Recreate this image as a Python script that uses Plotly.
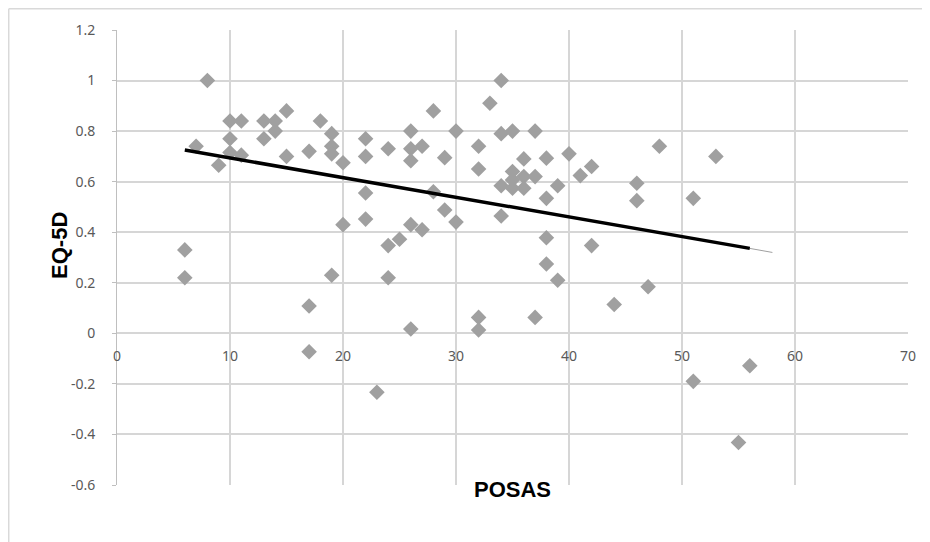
import plotly.graph_objects as go

# ---- data ----
posas = [6, 6, 7, 8, 9, 10, 10, 10, 11, 11, 13, 14, 15, 13, 14, 15, 17, 18, 19, 19,
         19, 20, 22, 22, 24, 22, 22, 20, 19, 17, 17, 24, 24, 23, 25, 26, 26, 26, 26, 26,
         27, 27, 28, 28, 29, 29, 30, 30, 32, 32, 32, 32, 33, 34, 34, 34, 34, 35, 35, 35,
         35, 36, 36, 36, 37, 37, 37, 38, 38, 38, 38, 39, 39, 40, 41, 42, 42, 44, 46, 46,
         47, 48, 51, 53, 51, 55, 56]
eq5d = [0.22, 0.33, 0.74, 1.0, 0.665, 0.84, 0.77, 0.715, 0.84, 0.705, 0.84, 0.84, 0.88, 0.77,
        0.80, 0.70, 0.72, 0.84, 0.79, 0.74, 0.71, 0.675, 0.77, 0.70, 0.73, 0.555, 0.452, 0.43,
        0.23, 0.108, -0.073, 0.347, 0.22, -0.233, 0.372, 0.80, 0.73, 0.683, 0.43, 0.017, 0.74,
        0.41, 0.88, 0.56, 0.695, 0.488, 0.80, 0.44, 0.74, 0.65, 0.063, 0.013, 0.91, 1.0, 0.79,
        0.584, 0.464, 0.80, 0.64, 0.607, 0.574, 0.69, 0.62, 0.574, 0.80, 0.62, 0.063, 0.693,
        0.534, 0.378, 0.274, 0.584, 0.21, 0.71, 0.624, 0.66, 0.347, 0.114, 0.594, 0.525, 0.184,
        0.74, 0.534, 0.70, -0.19, -0.432, -0.128]

trend_x = [6, 56]
trend_y = [0.725, 0.336]
trend_ext_x = [56, 58]
trend_ext_y = [0.336, 0.32]

x_ticks = [0, 10, 20, 30, 40, 50, 60, 70]
y_ticks = [-0.6, -0.4, -0.2, 0, 0.2, 0.4, 0.6, 0.8, 1.0, 1.2]
y_ticktext = ["-0.6", "-0.4", "-0.2", "0", "0.2", "0.4", "0.6", "0.8", "1", "1.2"]

fig = go.Figure()
fig.add_trace(go.Scatter(x=posas, y=eq5d, mode="markers",
                         marker=dict(symbol="diamond", size=12, color="#A0A0A0"),
                         showlegend=False, hoverinfo="x+y"))
fig.add_trace(go.Scatter(x=trend_ext_x, y=trend_ext_y, mode="lines",
                         line=dict(color="#A0A0A0", width=1), showlegend=False))
fig.add_trace(go.Scatter(x=trend_x, y=trend_y, mode="lines",
                         line=dict(color="#000000", width=3.5), showlegend=False))

grid = "#D6D6D6"
tickfont = dict(family="Noto Sans, Open Sans, sans-serif", size=14, color="#595959")

L, T, PW, PH = 109, 22, 791, 455
W, H = 922, 534

fig.update_layout(
    width=W, height=H,
    margin=dict(l=L, r=W - L - PW, t=T, b=H - T - PH, autoexpand=False),
    paper_bgcolor="white", plot_bgcolor="white",
    xaxis=dict(range=[0, 70], tickvals=x_ticks, showgrid=True, gridcolor=grid, gridwidth=2,
               zeroline=False, showline=False, ticks="", anchor="free",
               position=(0 - y_ticks[0]) / (y_ticks[-1] - y_ticks[0]),
               ticklabelstandoff=13, tickfont=tickfont),
    yaxis=dict(range=[-0.6, 1.2], tickvals=y_ticks, ticktext=y_ticktext, showgrid=True,
               gridcolor=grid, gridwidth=2, zeroline=False, showline=True,
               linecolor="#BFBFBF", linewidth=1, ticks="outside", ticklen=4,
               tickcolor="#BFBFBF", ticklabelstandoff=14, tickfont=tickfont),
    annotations=[
        dict(text="<b>EQ-5D</b>", xref="paper", yref="paper", x=-0.092, y=0.527,
             textangle=-90, showarrow=False,
             font=dict(family="Liberation Sans, Arial, sans-serif", size=22, color="black")),
        dict(text="<b>POSAS</b>", xref="paper", yref="paper", x=0.5, y=-0.042,
             showarrow=False,
             font=dict(family="Liberation Sans, Arial, sans-serif", size=22, color="black")),
    ],
    shapes=[
        dict(type="line", xref="paper", yref="paper", x0=-0.1369, x1=1.03, y0=1.0467, y1=1.0467,
             line=dict(color="#D9D9D9", width=1.5)),
        dict(type="line", xref="paper", yref="paper", x0=-0.1369, x1=-0.1369, y0=1.0467, y1=-0.13,
             line=dict(color="#D9D9D9", width=1.5)),
    ],
)

fig.write_html("out.html")
